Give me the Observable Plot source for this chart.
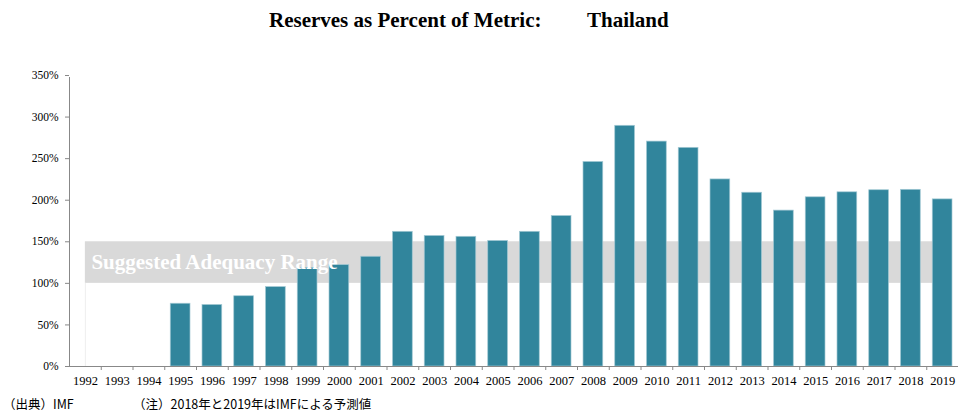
<!DOCTYPE html>
<html>
<head>
<meta charset="utf-8">
<script src="https://cdn.jsdelivr.net/npm/d3@7"></script>
<script src="https://cdn.jsdelivr.net/npm/@observablehq/plot@0.6"></script>
<style>
  body { margin: 0; background: #fff; }
  #wrap { position: relative; width: 958px; height: 412px; overflow: hidden; background: #fff; }
  .title { position: absolute; top: 10px; font-family: "Liberation Serif", serif; font-weight: bold; font-size: 21px; line-height: 21px; color: #000; white-space: nowrap; }
  .note { position: absolute; top: 398px; font-family: "Noto Sans CJK JP", sans-serif; font-size: 12.5px; line-height: 12px; color: #000; white-space: nowrap; }
  #chart { position: absolute; top: 0; left: 0; }
  #chart svg text { font-family: "Liberation Serif", serif; }
</style>
</head>
<body>
<div id="wrap">
  <div id="chart"></div>
  <div class="title" id="t1" style="left:269px"></div>
  <div class="title" id="t2" style="left:587px"></div>
  <div class="note" id="n1" style="left:3px"></div>
  <div class="note" id="n2" style="left:133px"></div>
</div>
<script>
const titleText = "Reserves as Percent of Metric:";
const countryText = "Thailand";
const sourceText = "（出典）IMF";
const noteText = "（注）2018年と2019年はIMFによる予測値";
const bandLabel = "Suggested Adequacy Range";

const years = [1992, 1993, 1994, 1995, 1996, 1997, 1998, 1999, 2000, 2001,
               2002, 2003, 2004, 2005, 2006, 2007, 2008, 2009, 2010, 2011,
               2012, 2013, 2014, 2015, 2016, 2017, 2018, 2019];
const reserves = [null, null, null, 75.5, 74, 84.5, 95.5, 118.5, 122, 132,
                  162, 157, 156, 151, 162, 181, 246, 289.5, 270.5, 263,
                  225, 209, 187.5, 203.5, 209.5, 212, 212.5, 201];
const bandLow = 100;
const bandHigh = 150;
const yTicks = [0, 50, 100, 150, 200, 250, 300, 350];

document.getElementById("t1").textContent = titleText;
document.getElementById("t2").textContent = countryText;
document.getElementById("n1").textContent = sourceText;
document.getElementById("n2").textContent = noteText;

const serif = "Liberation Serif";
const data = years.map((year, i) => ({year, value: reserves[i]})).filter(d => d.value != null);
const first = years[0], last = years[years.length - 1];
const boundaries = years.map(y => y + 0.5);
const band = [{x1: first, x2: last, y1: bandLow, y2: bandHigh}];

const chart = Plot.plot({
  width: 958,
  height: 392,
  marginTop: 75,
  marginBottom: 26,
  marginLeft: 69,
  marginRight: 0,
  style: {fontFamily: serif, fontSize: "12px", color: "#000", background: "#fff", overflow: "visible"},
  x: {domain: [first - 0.5, last + 0.5]},
  y: {domain: [0, 350]},
  marks: [
    Plot.rect(band, {x1: "x1", x2: "x2", y1: "y1", y2: "y2", fill: "#d9d9d9", insetRight: 8.5}),
    Plot.ruleX([first], {y1: 0, y2: bandLow, stroke: "#eeeeee"}),
    Plot.rectY(data, {x1: d => d.year - 0.5, x2: d => d.year + 0.5, y1: 0, y2: "value",
                      fill: "#31859c", stroke: "#a3c9d4", strokeWidth: 0.7, insetLeft: 6, insetRight: 6}),
    Plot.text([bandLabel], {x: first, y: (bandLow + bandHigh) / 2, dx: 6, textAnchor: "start",
                            fill: "#ffffff", fontWeight: "bold", fontSize: 21, fontFamily: serif}),
    Plot.ruleY([0], {stroke: "#888888"}),
    Plot.ruleX([first - 0.5], {y1: 0, y2: 350, stroke: "#888888", insetBottom: -2}),
    Plot.axisY({ticks: yTicks, tickFormat: d => d + "%", tickSize: 4, tickPadding: 7, stroke: "#888888", fill: "#000", label: null, fontSize: 11.5, fontFamily: serif}),
    Plot.axisX({ticks: boundaries, tickFormat: () => "", tickSize: 4, stroke: "#888888", label: null}),
    Plot.axisX({ticks: years, tickFormat: d => String(d), tickSize: 0, tickPadding: 10, fill: "#000", label: null, fontSize: 12.5, fontFamily: serif})
  ]
});
document.getElementById("chart").appendChild(chart);
</script>
</body>
</html>
